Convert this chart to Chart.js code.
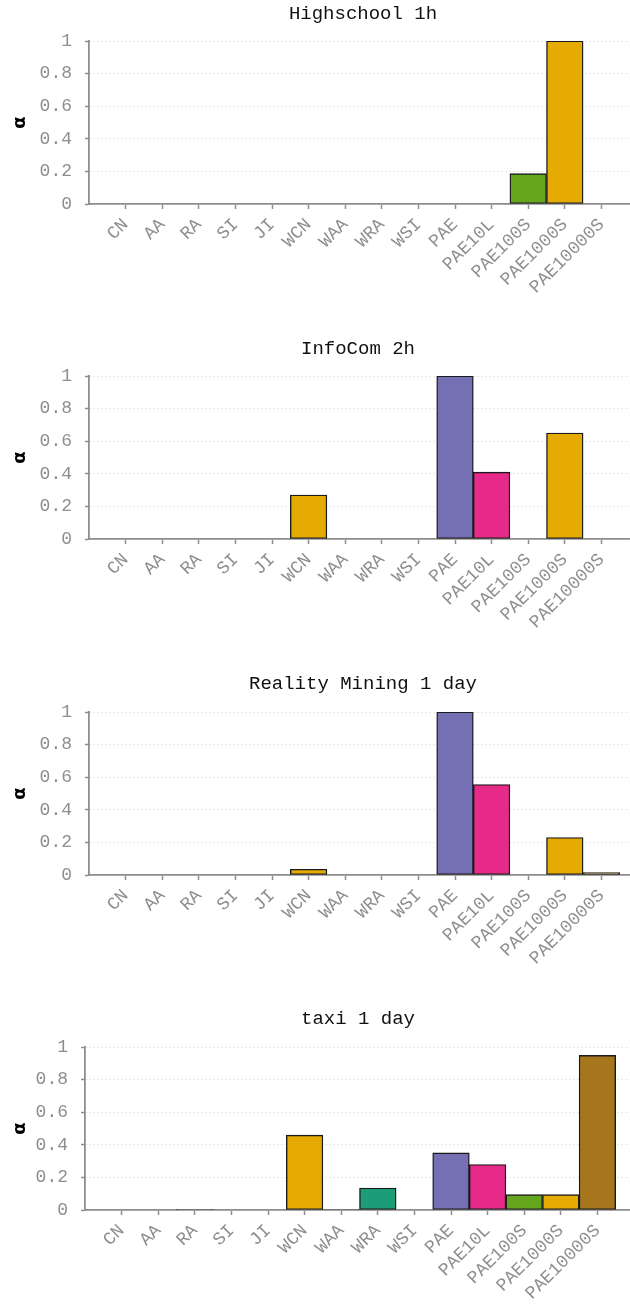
<!DOCTYPE html>
<html><head><meta charset="utf-8">
<script src="https://cdn.jsdelivr.net/npm/chart.js@4.4.1/dist/chart.umd.min.js"></script>
<style>
html,body{margin:0;padding:0;background:#fff;width:630px;height:1305px;overflow:hidden;position:relative;}
.panel{position:absolute;left:0;width:630px;height:335px;overflow:hidden;}
canvas{display:block;}
</style></head><body>
<div class="panel" style="top:0px"><canvas id="c0"></canvas></div>
<div class="panel" style="top:335px"><canvas id="c1"></canvas></div>
<div class="panel" style="top:670px"><canvas id="c2"></canvas></div>
<div class="panel" style="top:1005px"><canvas id="c3"></canvas></div>
<script>
const categories = ['CN','AA','RA','SI','JI','WCN','WAA','WRA','WSI','PAE','PAE10L','PAE100S','PAE1000S','PAE10000S'];
const titles = ['Highschool 1h','InfoCom 2h','Reality Mining 1 day','taxi 1 day'];
const highschool = [0,0,0,0,0,0,0,0,0,0,0,0.186,1.0,0];
const infocom    = [0,0,0,0,0,0.27,0,0,0,1.0,0.41,0,0.65,0];
const reality    = [0,0,0,0,0,0.035,0,0,0,1.0,0.555,0,0.23,0.015];
const taxi       = [0,0,0.002,0,0,0.459,0.003,0.135,0,0.35,0.279,0.094,0.094,0.949];
const seriesList = [highschool, infocom, reality, taxi];
const yTicks = [0,0.2,0.4,0.6,0.8,1];
const yLabels = ['0','0.2','0.4','0.6','0.8','1'];
const barColors = ['#1b9e77','#d95f02','#666666','#7570b3','#e7298a','#e6ab02','#333333','#1b9e77','#666666','#7570b3','#e7298a','#66a61e','#e6ab02','#a6761d'];

// layout (pixels) per panel
const layouts = [
  {W:726, axisLeft:89, areaTop:41, areaBottom:204},
  {W:716, axisLeft:89, areaTop:41, areaBottom:204},
  {W:726, axisLeft:89, areaTop:42, areaBottom:205},
  {W:716, axisLeft:85, areaTop:42, areaBottom:205}
];
const UNIT = 36.6;
const H = 335;
const MONO = '"Liberation Mono","Courier New",monospace';
const GRAY = '#8e8e8e';

seriesList.forEach((vals, k) => {
  const L = layouts[k];
  const cv = document.getElementById('c'+k);
  cv.width = L.W; cv.height = H;
  cv.style.width = L.W+'px'; cv.style.height = H+'px';
  const titleLine = 19*1.2;
  const padTop = 2.5;
  const padBottom = L.areaTop - padTop - titleLine;
  new Chart(cv, {
    type: 'bar',
    data: {
      datasets: [{
        data: vals.map((v,i)=>({x:i, y:v})),
        backgroundColor: barColors,
        borderColor: '#1a1a1a',
        borderWidth: 1.4,
        borderSkipped: false,
        barPercentage: 1,
        categoryPercentage: 1
      }]
    },
    options: {
      responsive: false,
      animation: false,
      devicePixelRatio: 1,
      layout: {padding: 0},
      plugins: {
        legend: {display:false},
        tooltip: {enabled:false},
        title: {
          display: true, text: titles[k], color: '#111',
          font: {family: MONO, size: 19, weight: 'normal', lineHeight: 1.2},
          padding: {top: padTop, bottom: padBottom}
        }
      },
      scales: {
        x: {
          type: 'linear',
          offset: false,
          min: -1,
          max: -1 + (L.W - L.axisLeft)/UNIT,
          afterBuildTicks: (ax) => { ax.ticks = categories.map((c,i)=>({value:i})); },
          afterFit: (ax) => { ax.height = H - L.areaBottom; },
          ticks: {
            autoSkip: false, maxRotation: 45, minRotation: 45,
            color: GRAY, font: {family: MONO, size: 18},
            padding: 5,
            callback: (v) => categories[v] !== undefined ? categories[v] : ''
          },
          grid: {offset:false, drawOnChartArea:false, drawTicks:true, tickLength:5, tickColor: GRAY, tickWidth:1.5},
          border: {display:true, color: GRAY, width:1.8}
        },
        y: {
          min: 0, max: 1,
          afterBuildTicks: (ax) => { ax.ticks = yTicks.map(v=>({value:v})); },
          afterFit: (ax) => { ax.width = L.axisLeft; },
          ticks: {
            color: GRAY, font: {family: MONO, size: 18}, padding: 13,
            callback: (v) => { const i = yTicks.indexOf(v); return i >= 0 ? yLabels[i] : ''; }
          },
          grid: {color:'#d0d0d0', lineWidth:1, drawTicks:true, tickLength:4, tickColor: GRAY, tickWidth:1.5},
          border: {display:true, color: GRAY, width:1.8, dash:[1,3]},
          title: {
            display: true, text: 'α', color: '#000',
            font: {family: '"DejaVu Sans",sans-serif', size: 18, weight: 'bold', lineHeight: 1.2},
            padding: {top: 9.5, bottom: 0}
          }
        }
      }
    }
  });
});
</script>
</body></html>
